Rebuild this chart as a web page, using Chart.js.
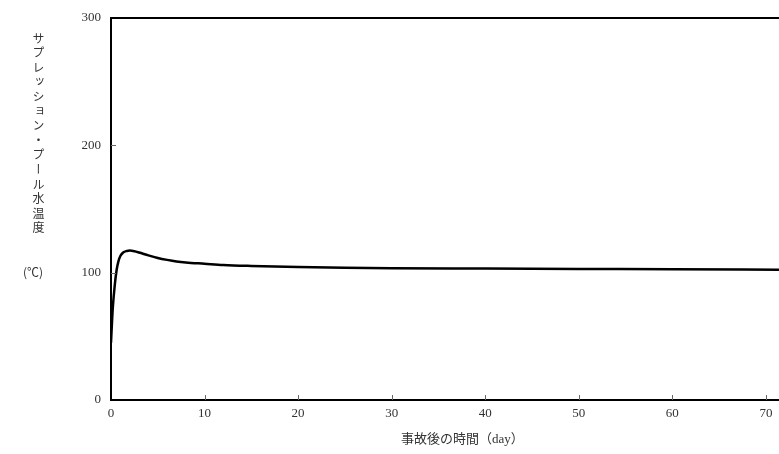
<!DOCTYPE html>
<html>
<head>
<meta charset="utf-8">
<script src="https://cdn.jsdelivr.net/npm/chart.js@4/dist/chart.umd.min.js"></script>
<style>
  html, body { margin: 0; padding: 0; background: #fff; }
  #wrap { position: relative; width: 779px; height: 454px; }
  #yTitle {
    position: absolute; left: 30px; top: 32px;
    writing-mode: vertical-rl; font-family: 'Noto Sans CJK JP', serif;
    font-size: 12px; letter-spacing: 2.6px; color: #333;
  }
  #yUnit {
    position: absolute; left: 23px; top: 263px;
    font-family: 'Noto Sans CJK JP', serif; font-size: 12px; color: #333;
  }
  #xTitle {
    position: absolute; left: 401px; top: 428px;
    font-family: 'Liberation Serif', 'Noto Sans CJK JP', serif; font-size: 13px; color: #333;
  }
</style>
</head>
<body>
<div id="wrap">
  <canvas id="tempChart" width="779" height="454"></canvas>
  <div id="yTitle">サプレッション・プール水温度</div>
  <div id="yUnit">(℃)</div>
  <div id="xTitle">事故後の時間（day）</div>
</div>
<script>
// time after accident (day) and pool water temperature (°C)
const days = [0, 0.1, 0.2, 0.4, 0.6, 0.8, 1.0, 1.3, 1.7, 2.0, 2.5, 3, 4, 5, 6, 7, 8, 10, 12, 15, 20, 25, 30, 40, 50, 60, 71.4]
const temps = [45, 60, 73, 90, 102, 109, 113, 115.8, 117, 117.3, 116.8, 115.8, 113.5, 111.5, 110, 108.8, 108, 107, 106, 105.2, 104.3, 103.8, 103.5, 103.2, 102.9, 102.6, 102.3]
const xTicks = [0, 10, 20, 30, 40, 50, 60, 70]
const yTicks = [0, 100, 200, 300]

const points = days.map((d, i) => ({ x: d, y: temps[i] }))

const innerTicks = {
  id: 'innerTicks',
  afterDraw (chart) {
    const { ctx, chartArea, scales } = chart
    ctx.save()
    ctx.strokeStyle = '#666'
    ctx.lineWidth = 1
    ctx.beginPath()
    yTicks.slice(1, -1).forEach(v => {
      const py = Math.round(scales.y.getPixelForValue(v)) + 0.5
      ctx.moveTo(chartArea.left, py)
      ctx.lineTo(chartArea.left + 5, py)
    })
    xTicks.slice(1).forEach(v => {
      const px = Math.round(scales.x.getPixelForValue(v)) + 0.5
      ctx.moveTo(px, chartArea.bottom)
      ctx.lineTo(px, chartArea.bottom - 5)
    })
    ctx.stroke()
    ctx.restore()
  }
}

const config = {
  type: 'line',
  data: {
    datasets: [{
      data: points,
      borderColor: '#000',
      borderWidth: 2.5,
      pointRadius: 0,
      cubicInterpolationMode: 'monotone',
      fill: false
    }]
  },
  options: {
    responsive: false,
    animation: false,
    layout: { padding: { left: 0, right: 0, top: 13, bottom: 0 } },
    plugins: {
      legend: { display: false },
      tooltip: { enabled: false }
    },
    scales: {
      x: {
        type: 'linear',
        min: 0,
        max: 71.4,
        afterFit: s => { s.height = 54 },
        afterBuildTicks: s => { s.ticks = xTicks.map(v => ({ value: v })) },
        grid: { display: false, drawTicks: false },
        border: { display: true, color: '#000', width: 2 },
        ticks: {
          padding: 6,
          color: '#333',
          font: { family: 'Liberation Serif', size: 13 }
        }
      },
      y: {
        min: 0,
        max: 300,
        afterFit: s => { s.width = 111 },
        afterBuildTicks: s => { s.ticks = yTicks.map(v => ({ value: v })) },
        grid: {
          drawTicks: false,
          color: c => (c.tick && c.tick.value === 300 ? '#000' : 'rgba(0,0,0,0)'),
          lineWidth: 2
        },
        border: { display: true, color: '#000', width: 2 },
        ticks: {
          padding: 10,
          color: '#333',
          font: { family: 'Liberation Serif', size: 13 }
        }
      }
    }
  },
  plugins: [innerTicks]
}

new Chart(document.getElementById('tempChart'), config) // eslint-disable-line
</script>
</body>
</html>
